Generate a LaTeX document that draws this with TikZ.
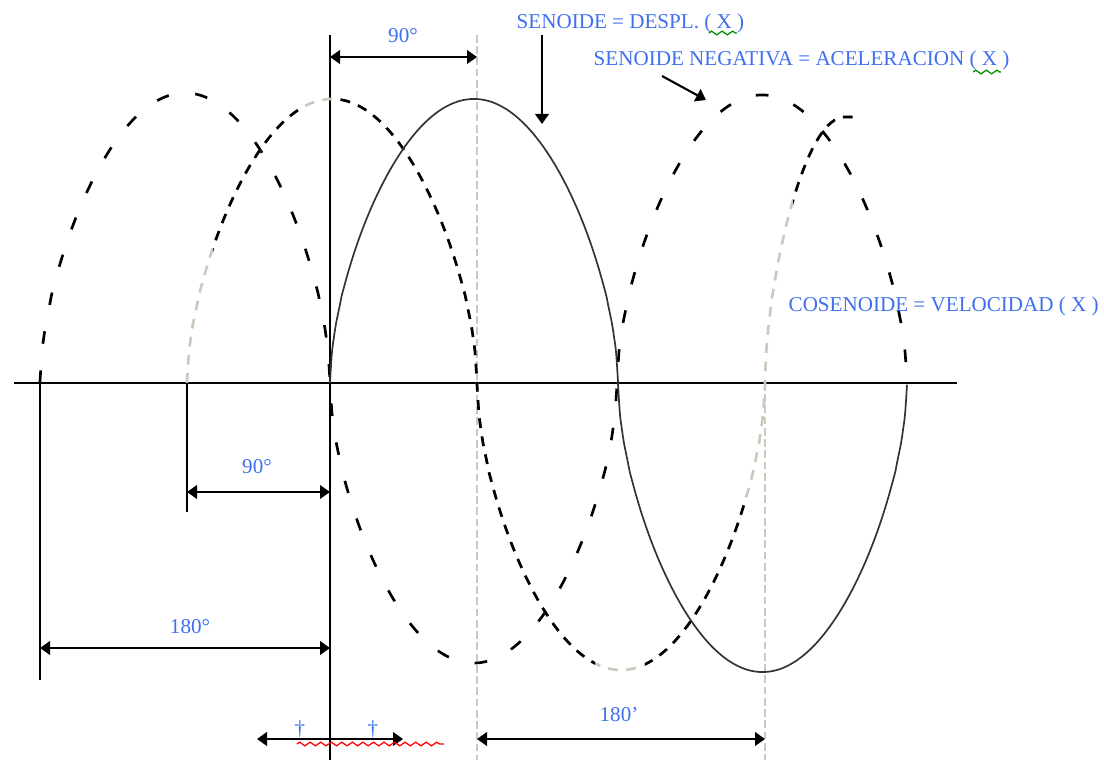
\documentclass[tikz,border=0pt]{standalone}
\usepackage{fontspec}
\setmainfont{Liberation Serif}
\usepackage{tikz}
\usetikzlibrary{arrows.meta,calc,decorations.pathmorphing}
\definecolor{labelblue}{HTML}{3F6FEF}
\definecolor{guidegray}{HTML}{CFC8BF}
\definecolor{inkgray}{HTML}{333333}
\tikzset{
  axisline/.style={line width=1.8pt,draw=black},
  refline/.style={line width=1.6pt,draw=black},
  guide/.style={line width=1.4pt,draw=guidegray,dash pattern=on 5.5pt off 2.5pt},
  dimarrow/.style={{Triangle[length=2.5mm,width=3.4mm]}-{Triangle[length=2.5mm,width=3.4mm]},line width=1.5pt},
  pointer/.style={-{Triangle[length=2.5mm,width=3.4mm]},line width=1.5pt},
  acelcurve/.style={line width=1.9pt,dash pattern=on 9pt off 19pt},
  velcurve/.style={line width=1.9pt,dash pattern=on 7pt off 6pt,draw=#1},
  velcurve/.default=black,
  desplcurve/.style={line width=1.2pt,draw=inkgray},
  lbl/.style={text=labelblue,inner sep=1pt,font=\fontsize{15}{17}\selectfont},
  squiggle/.style={draw=#1,line width=0.9pt,decorate,
    decoration={zigzag,segment length=7.5pt,amplitude=1.3pt}}
}
% one half wave between two zeros, height in pixels (positive = up)
\newcommand{\hump}[3]{-- plot[smooth,domain=#1:#2,samples=150]
  (\x,{383-(#3)*pow(abs(sin((\x-#1)/(#2-#1)*180))+0.0001,0.58)})}
\newcommand{\acelpath}{(40,383) \hump{40}{330}{290} \hump{330}{617}{-280}
  \hump{617}{907}{288}}
\newcommand{\velpath}{(187,383) \hump{187}{477}{284} \hump{477}{765}{-287}
  -- plot[smooth,domain=765:845,samples=80]
  (\x,{383-266*pow(abs(sin((\x-765)/80*90))+0.0001,0.58)}) -- (858,117)}
\newcommand{\desplpath}{(330,383) \hump{330}{618}{284} \hump{618}{907}{-289}}

\begin{document}
\begin{tikzpicture}[x=0.025cm,y=-0.025cm]
\useasboundingbox (0,0) rectangle (1104,760);
% gray guides
\coordinate (peaktop) at (477,35);
\coordinate (peakbot) at (477,760);
\coordinate (troughtop) at (765,383);
\coordinate (troughbot) at (765,760);
\draw[guide] (peaktop) -- (peakbot);
\draw[guide] (troughtop) -- (troughbot);
% axis and reference lines
\coordinate (axisl) at (14,383);
\coordinate (axisr) at (957,383);
\draw[axisline] (axisl) -- (axisr);
\coordinate (zerotop) at (330,35);
\coordinate (zerobot) at (330,760);
\draw[refline] (zerotop) -- (zerobot);
\coordinate (veltop) at (187,383);
\coordinate (velbot) at (187,512);
\draw[refline] (veltop) -- (velbot);
\coordinate (aceltop) at (40,383);
\coordinate (acelbot) at (40,680);
\draw[refline] (aceltop) -- (acelbot);
% curves
\draw[acelcurve] \acelpath;
\draw[velcurve=guidegray] \velpath;
\begin{scope}
\clip (213,0) rectangle (300,760) (340,0) rectangle (595,760)
      (645,0) rectangle (745,760) (793,0) rectangle (880,760);
\draw[velcurve] \velpath;
\end{scope}
\draw[desplcurve] \desplpath;
% dimension arrows
\coordinate (top90l) at (330,57);
\coordinate (top90r) at (477,57);
\draw[dimarrow] (top90l) -- (top90r);
\coordinate (mid90l) at (187,492);
\coordinate (mid90r) at (330,492);
\draw[dimarrow] (mid90l) -- (mid90r);
\coordinate (low180l) at (40,648);
\coordinate (low180r) at (330,648);
\draw[dimarrow] (low180l) -- (low180r);
\coordinate (bot180l) at (477,739);
\coordinate (bot180r) at (765,739);
\draw[dimarrow] (bot180l) -- (bot180r);
\coordinate (shiftl) at (257,739);
\coordinate (shiftr) at (403,739);
\draw[dimarrow] (shiftl) -- (shiftr);
% angle labels
\node[lbl,anchor=base] (ang90top) at (403,43) {90°};
\node[lbl,anchor=base] (ang90mid) at (257,473) {90°};
\node[lbl,anchor=base] (ang180low) at (190,633) {180°};
\node[lbl,anchor=base] (ang180bot) at (619,721) {180'};
\node[lbl,anchor=base] (dagl) at (300,735) {†};
\node[lbl,anchor=base] (dagr) at (373,735) {†};
\coordinate (redl) at (297,744);
\coordinate (redr) at (444,744);
\draw[squiggle=red] (redl) -- (redr);
% curve labels
\node[lbl,anchor=base west] (lbldespl) at (515,29) {SENOIDE = DESPL. ( X )};
\node[lbl,anchor=base west] (lblacel) at (592,66) {SENOIDE NEGATIVA = ACELERACION ( X )};
\node[lbl,anchor=base west] (lblvel) at (787,312) {COSENOIDE = VELOCIDAD ( X )};
\draw[squiggle=green!55!black] ($(lbldespl.base east)+(-37,4)$) -- ($(lbldespl.base east)+(-9,4)$);
\draw[squiggle=green!55!black] ($(lblacel.base east)+(-38,6)$) -- ($(lblacel.base east)+(-10,6)$);
\coordinate (despltip) at (542,124);
\draw[pointer] (lbldespl.south west -| despltip) -- (despltip);
\coordinate (acelfrom) at (662,76);
\coordinate (aceltip) at (706,100);
\draw[pointer] (acelfrom) -- (aceltip);
\end{tikzpicture}
\end{document}
